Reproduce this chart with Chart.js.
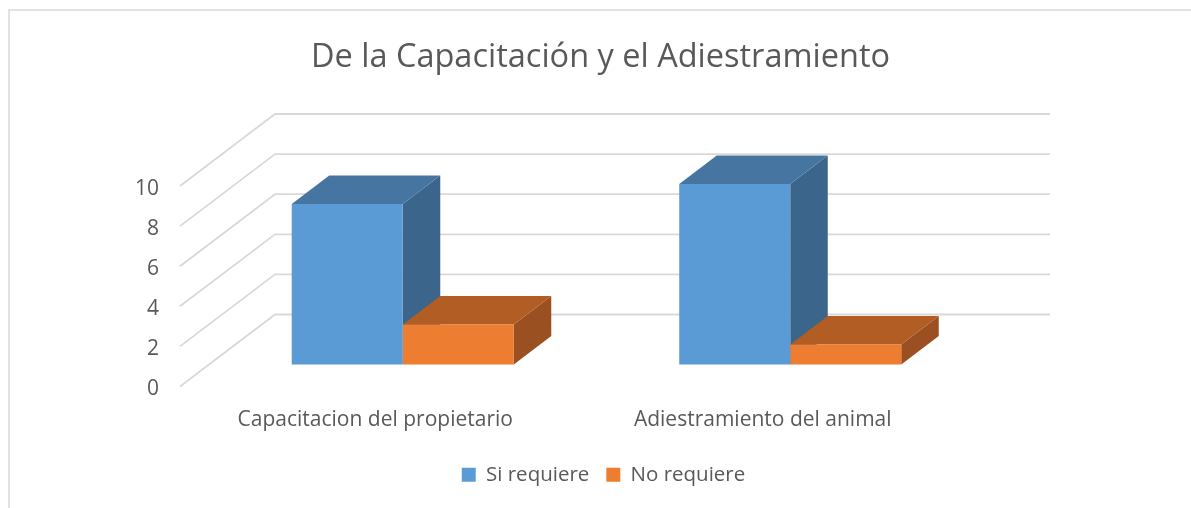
<!DOCTYPE html>
<html>
<head>
<meta charset="utf-8">
<title>De la Capacitación y el Adiestramiento</title>
<script src="https://cdn.jsdelivr.net/npm/chart.js@4/dist/chart.umd.min.js"></script>
<style>
    html, body { margin: 0; padding: 0; background: #fff; }
    #wrap { width: 1191px; height: 508px; }
</style>
</head>
<body>
<div id="wrap"><canvas id="myChart" width="1191" height="508"></canvas></div>
<script>
const categories = ['Capacitacion del propietario', 'Adiestramiento del animal'];
const siRequiere = [8, 9];
const noRequiere = [2, 1];
const yTicks = [0, 2, 4, 6, 8, 10];

const chartFont = '"Open Sans", sans-serif';
const textColor = '#595959';
const gridColor = '#D9D9D9';

// depth of the floor, and where the bars sit in it
const wallDepth = { x: 95, y: -72 };
const wallShift = { x: -1.5, y: -3 };
const barOffset = { x: 27.5, y: -25 };
const barDepth = { x: 37.5, y: -28.5 };

function face(ctx, points, color) {
    ctx.beginPath();
    points.forEach((p, i) => i ? ctx.lineTo(p[0], p[1]) : ctx.moveTo(p[0], p[1]));
    ctx.closePath();
    ctx.fillStyle = color;
    ctx.fill();
}

const fake3d = {
    id: 'fake3d',
    afterLayout(chart) {
        // legend sits a little right of the title in the original
        chart.legend.left += 3;
        chart.legend.right += 3;
    },
    beforeDraw(chart) {
        const { ctx, chartArea, scales } = chart;
        ctx.save();
        // outer frame
        ctx.strokeStyle = gridColor;
        ctx.lineWidth = 1.5;
        ctx.strokeRect(9, 10, 1400, 600);
        // gridlines: side wall, then back wall
        ctx.lineWidth = 1.8;
        ctx.translate(wallShift.x, wallShift.y);
        yTicks.forEach(t => {
            const y = scales.y.getPixelForValue(t);
            ctx.beginPath();
            ctx.moveTo(chartArea.left, y);
            ctx.lineTo(chartArea.left + wallDepth.x, y + wallDepth.y);
            ctx.lineTo(chartArea.right + wallDepth.x, y + wallDepth.y);
            ctx.stroke();
        });
        ctx.restore();
    },
    beforeDatasetsDraw(chart) {
        const ctx = chart.ctx;
        ctx.save();
        ctx.translate(barOffset.x, barOffset.y);
        const dx = barDepth.x, dy = barDepth.y;
        chart.data.datasets.forEach((ds, i) => {
            chart.getDatasetMeta(i).data.forEach(bar => {
                const l = bar.x - bar.width / 2, r = bar.x + bar.width / 2;
                const t = bar.y, b = bar.base;
                face(ctx, [[r, b], [r + dx, b + dy], [r + dx, t + dy], [r, t]], ds.sideColor);
                face(ctx, [[l, t], [l + dx, t + dy], [r + dx, t + dy], [r, t]], ds.topColor);
            });
        });
    },
    afterDatasetsDraw(chart) {
        chart.ctx.restore();
    }
};

new Chart(document.getElementById('myChart'), {
    type: 'bar',
    data: {
        labels: categories,
        datasets: [
            { label: 'Si requiere', data: siRequiere, backgroundColor: '#5B9BD5', topColor: '#4675A1', sideColor: '#3B658A' },
            { label: 'No requiere', data: noRequiere, backgroundColor: '#ED7D31', topColor: '#B25D23', sideColor: '#9A5020' }
        ]
    },
    plugins: [fake3d],
    options: {
        responsive: false,
        animation: false,
        layout: { padding: { left: 10, right: 0, top: 0, bottom: 13 } },
        datasets: { bar: { categoryPercentage: 0.573, barPercentage: 1, clip: false } },
        plugins: {
            title: {
                display: true,
                text: 'De la Capacitación y el Adiestramiento',
                color: textColor,
                font: { family: chartFont, size: 32.5, weight: 'normal' },
                padding: { top: 38, bottom: 112 }
            },
            legend: {
                position: 'bottom',
                labels: {
                    color: textColor,
                    font: { family: chartFont, size: 20.5 },
                    boxWidth: 14,
                    boxHeight: 14,
                    padding: 17
                }
            },
            tooltip: { enabled: false }
        },
        scales: {
            x: {
                afterFit(scale) { scale.height = 58; },
                grid: { display: false },
                border: { display: false },
                ticks: { color: textColor, font: { family: chartFont, size: 21 }, padding: 10, maxRotation: 0 }
            },
            y: {
                min: 0,
                max: 10,
                afterFit(scale) { scale.width = 171.5; },
                grid: { display: false, drawTicks: false },
                border: { display: false },
                ticks: { stepSize: 2, color: textColor, font: { family: chartFont, size: 21 }, padding: 22.5 }
            },
            // empty axis that keeps the plot clear of the back wall on the right
            spacer: {
                position: 'right',
                afterFit(scale) { scale.width = 234.5; },
                grid: { display: false, drawTicks: false },
                border: { display: false },
                ticks: { display: false }
            }
        }
    }
});
</script>
</body>
</html>
